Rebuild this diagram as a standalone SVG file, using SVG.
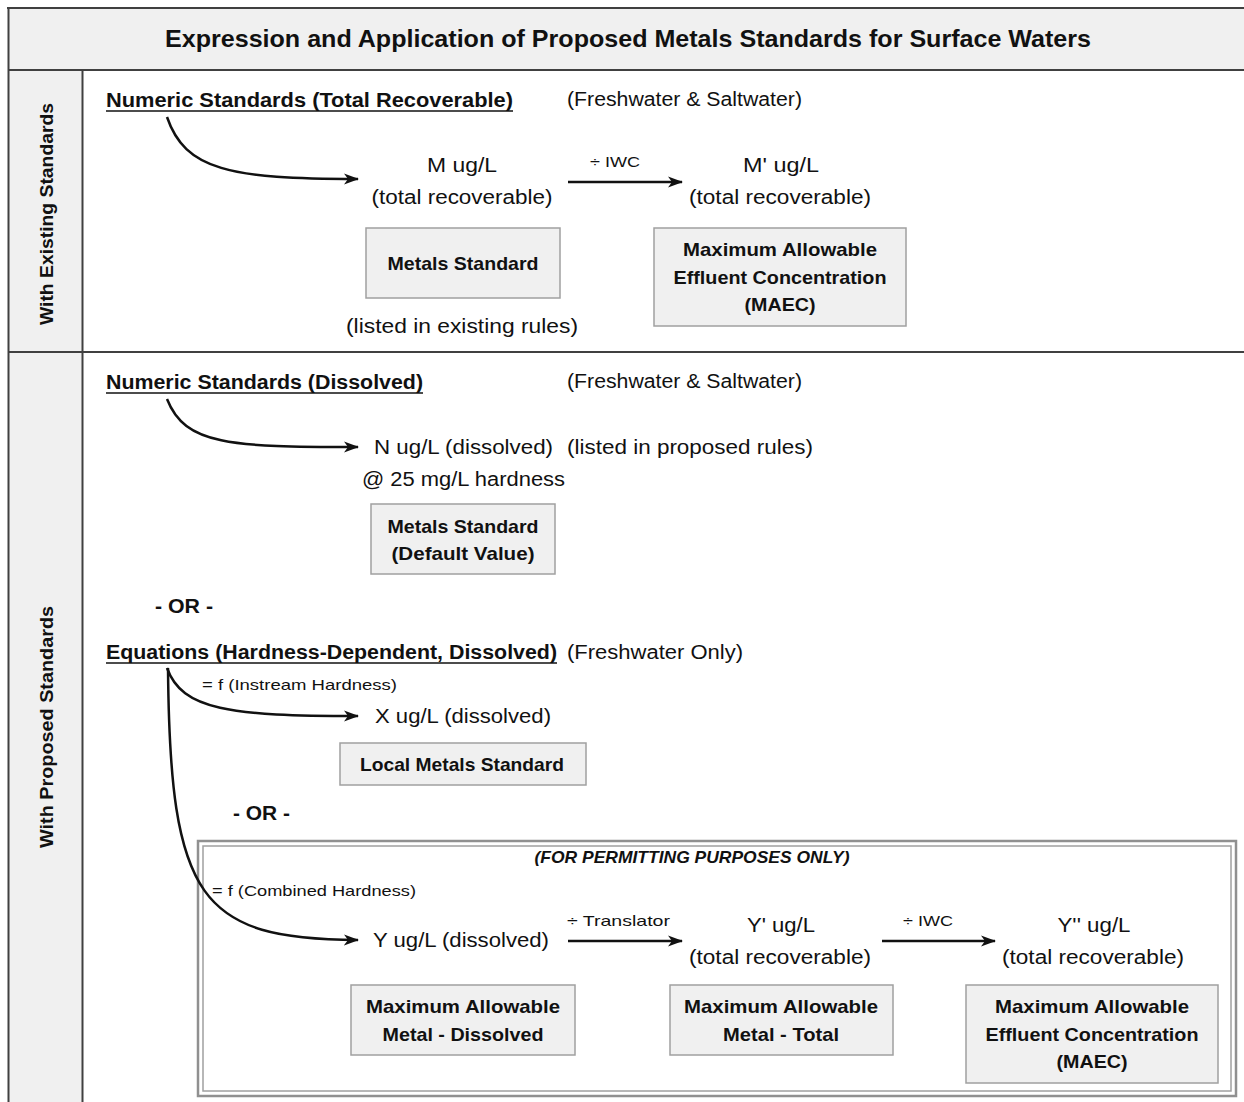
<svg xmlns="http://www.w3.org/2000/svg" width="1244" height="1102" viewBox="0 0 1244 1102">
<style>
text{font-family:"Liberation Sans",Arial,sans-serif;fill:#111}
.t{font-size:20px}
.s{font-size:15px}
.b{font-size:19px;font-weight:bold}
.h{font-size:20px;font-weight:bold}
.lab{font-size:19px;font-weight:bold}
.box{fill:#f0f0f0;stroke:#a0a0a0;stroke-width:1.5}
.con{fill:none;stroke:#111;stroke-width:2.5}
.ul{stroke:#111;stroke-width:1.5}
</style>
<defs>
<marker id="ah" markerWidth="16" markerHeight="12" refX="14" refY="6" orient="auto" markerUnits="userSpaceOnUse" viewBox="0 0 16 12">
<path d="M0,0.5 L15,6 L0,11.5 L4,6 z" fill="#111"/>
</marker>
</defs>
<rect width="1244" height="1102" fill="#fff"/>
<g id="frame">
<rect x="8" y="7" width="1240" height="63" fill="#f0f0f0"/>
<rect x="8" y="70" width="74" height="1040" fill="#f0f0f0"/>
<line x1="7" y1="8" x2="1244" y2="8" stroke="#404040" stroke-width="2"/>
<line x1="8" y1="70" x2="1244" y2="70" stroke="#404040" stroke-width="2"/>
<line x1="8.5" y1="7" x2="8.5" y2="1102" stroke="#404040" stroke-width="2"/>
<line x1="82.5" y1="70" x2="82.5" y2="1102" stroke="#404040" stroke-width="2"/>
<line x1="8" y1="352" x2="1244" y2="352" stroke="#404040" stroke-width="2"/>
<text x="628" y="47" text-anchor="middle" style="font-size:24px;font-weight:bold" textLength="926" lengthAdjust="spacingAndGlyphs">Expression and Application of Proposed Metals Standards for Surface Waters</text>
<text class="lab" transform="translate(53,214) rotate(-90)" text-anchor="middle" textLength="222" lengthAdjust="spacingAndGlyphs">With Existing Standards</text>
<text class="lab" transform="translate(53,727) rotate(-90)" text-anchor="middle" textLength="242" lengthAdjust="spacingAndGlyphs">With Proposed Standards</text>
</g>
<g id="permit-frame">
<rect x="198" y="841" width="1038" height="255" fill="none" stroke="#909090" stroke-width="2.5"/>
<rect x="203" y="846" width="1028" height="245" fill="none" stroke="#a0a0a0" stroke-width="1.5"/>
<text x="692" y="863" text-anchor="middle" style="font-size:17px;font-weight:bold;font-style:italic" textLength="315" lengthAdjust="spacingAndGlyphs">(FOR PERMITTING PURPOSES ONLY)</text>
</g>
<g id="connectors">
<path class="con" d="M167,117 C185,170 230,179 358,179" marker-end="url(#ah)"/>
<path class="con" d="M167,399 C185,445 230,447 358,447" marker-end="url(#ah)"/>
<path class="con" d="M167,668 C182,710 230,716 358,716" marker-end="url(#ah)"/>
<path class="con" d="M168,668 C170,900 200,939 358,940" marker-end="url(#ah)"/>
<line class="con" x1="568" y1="182" x2="682" y2="182" marker-end="url(#ah)"/>
<line class="con" x1="568" y1="941" x2="682" y2="941" marker-end="url(#ah)"/>
<line class="con" x1="882" y1="941" x2="995" y2="941" marker-end="url(#ah)"/>
<text class="s" x="590" y="167" textLength="50" lengthAdjust="spacingAndGlyphs">÷ IWC</text>
<text class="s" x="567" y="926" textLength="103" lengthAdjust="spacingAndGlyphs">÷ Translator</text>
<text class="s" x="903" y="926" textLength="50" lengthAdjust="spacingAndGlyphs">÷ IWC</text>
<text class="s" x="202" y="690" textLength="195" lengthAdjust="spacingAndGlyphs">= f (Instream Hardness)</text>
<text class="s" x="212" y="896" textLength="204" lengthAdjust="spacingAndGlyphs">= f (Combined Hardness)</text>
</g>
<g id="heading-total">
<text class="h" x="106" y="107" textLength="407" lengthAdjust="spacingAndGlyphs">Numeric Standards (Total Recoverable)</text>
<line class="ul" x1="106" y1="111" x2="513" y2="111"/>
<text class="t" x="567" y="106" textLength="235" lengthAdjust="spacingAndGlyphs">(Freshwater &amp; Saltwater)</text>
</g>
<g id="m-value">
<text class="t" x="462" y="172" text-anchor="middle" textLength="70" lengthAdjust="spacingAndGlyphs">M ug/L</text>
<text class="t" x="462" y="204" text-anchor="middle" textLength="181" lengthAdjust="spacingAndGlyphs">(total recoverable)</text>
</g>
<g id="m-prime-value">
<text class="t" x="781" y="172" text-anchor="middle" textLength="76" lengthAdjust="spacingAndGlyphs">M' ug/L</text>
<text class="t" x="780" y="204" text-anchor="middle" textLength="182" lengthAdjust="spacingAndGlyphs">(total recoverable)</text>
</g>
<g id="metals-standard">
<rect class="box" x="366" y="228" width="194" height="70"/>
<text class="b" x="463" y="270" text-anchor="middle" textLength="151" lengthAdjust="spacingAndGlyphs">Metals Standard</text>
<text class="t" x="462" y="333" text-anchor="middle" textLength="232" lengthAdjust="spacingAndGlyphs">(listed in existing rules)</text>
</g>
<g id="maec-1">
<rect class="box" x="654" y="228" width="252" height="98"/>
<text class="b" x="780" y="256" text-anchor="middle" textLength="194" lengthAdjust="spacingAndGlyphs">Maximum Allowable</text>
<text class="b" x="780" y="284" text-anchor="middle" textLength="213" lengthAdjust="spacingAndGlyphs">Effluent Concentration</text>
<text class="b" x="780" y="311" text-anchor="middle" textLength="71" lengthAdjust="spacingAndGlyphs">(MAEC)</text>
</g>
<g id="heading-dissolved">
<text class="h" x="106" y="389" textLength="317" lengthAdjust="spacingAndGlyphs">Numeric Standards (Dissolved)</text>
<line class="ul" x1="106" y1="393" x2="423" y2="393"/>
<text class="t" x="567" y="388" textLength="235" lengthAdjust="spacingAndGlyphs">(Freshwater &amp; Saltwater)</text>
</g>
<g id="n-value">
<text class="t" x="374" y="454" textLength="179" lengthAdjust="spacingAndGlyphs">N ug/L (dissolved)</text>
<text class="t" x="567" y="454" textLength="246" lengthAdjust="spacingAndGlyphs">(listed in proposed rules)</text>
<text class="t" x="362" y="486" textLength="203" lengthAdjust="spacingAndGlyphs">@ 25 mg/L hardness</text>
</g>
<g id="metals-standard-default">
<rect class="box" x="371" y="504" width="184" height="70"/>
<text class="b" x="463" y="533" text-anchor="middle" textLength="151" lengthAdjust="spacingAndGlyphs">Metals Standard</text>
<text class="b" x="463" y="560" text-anchor="middle" textLength="143" lengthAdjust="spacingAndGlyphs">(Default Value)</text>
</g>
<g id="or-1">
<text class="h" x="155" y="613" textLength="58" lengthAdjust="spacingAndGlyphs">- OR -</text>
</g>
<g id="heading-equations">
<text class="h" x="106" y="659" textLength="451" lengthAdjust="spacingAndGlyphs">Equations (Hardness-Dependent, Dissolved)</text>
<line class="ul" x1="106" y1="663" x2="557" y2="663"/>
<text class="t" x="567" y="659" textLength="176" lengthAdjust="spacingAndGlyphs">(Freshwater Only)</text>
</g>
<g id="x-value">
<text class="t" x="375" y="723" textLength="176" lengthAdjust="spacingAndGlyphs">X ug/L (dissolved)</text>
</g>
<g id="local-metals-standard">
<rect class="box" x="340" y="743" width="246" height="42"/>
<text class="b" x="462" y="771" text-anchor="middle" textLength="204" lengthAdjust="spacingAndGlyphs">Local Metals Standard</text>
</g>
<g id="or-2">
<text class="h" x="233" y="820" textLength="57" lengthAdjust="spacingAndGlyphs">- OR -</text>
</g>
<g id="y-value">
<text class="t" x="373" y="947" textLength="176" lengthAdjust="spacingAndGlyphs">Y ug/L (dissolved)</text>
</g>
<g id="y-prime-value">
<text class="t" x="781" y="932" text-anchor="middle" textLength="68" lengthAdjust="spacingAndGlyphs">Y' ug/L</text>
<text class="t" x="780" y="964" text-anchor="middle" textLength="182" lengthAdjust="spacingAndGlyphs">(total recoverable)</text>
</g>
<g id="y-double-prime-value">
<text class="t" x="1094" y="932" text-anchor="middle" textLength="73" lengthAdjust="spacingAndGlyphs">Y'' ug/L</text>
<text class="t" x="1093" y="964" text-anchor="middle" textLength="182" lengthAdjust="spacingAndGlyphs">(total recoverable)</text>
</g>
<g id="max-metal-dissolved">
<rect class="box" x="351" y="985" width="224" height="70"/>
<text class="b" x="463" y="1013" text-anchor="middle" textLength="194" lengthAdjust="spacingAndGlyphs">Maximum Allowable</text>
<text class="b" x="463" y="1041" text-anchor="middle" textLength="161" lengthAdjust="spacingAndGlyphs">Metal - Dissolved</text>
</g>
<g id="max-metal-total">
<rect class="box" x="670" y="985" width="223" height="70"/>
<text class="b" x="781" y="1013" text-anchor="middle" textLength="194" lengthAdjust="spacingAndGlyphs">Maximum Allowable</text>
<text class="b" x="781" y="1041" text-anchor="middle" textLength="116" lengthAdjust="spacingAndGlyphs">Metal - Total</text>
</g>
<g id="maec-2">
<rect class="box" x="966" y="985" width="252" height="98"/>
<text class="b" x="1092" y="1013" text-anchor="middle" textLength="194" lengthAdjust="spacingAndGlyphs">Maximum Allowable</text>
<text class="b" x="1092" y="1041" text-anchor="middle" textLength="213" lengthAdjust="spacingAndGlyphs">Effluent Concentration</text>
<text class="b" x="1092" y="1068" text-anchor="middle" textLength="71" lengthAdjust="spacingAndGlyphs">(MAEC)</text>
</g>
</svg>
